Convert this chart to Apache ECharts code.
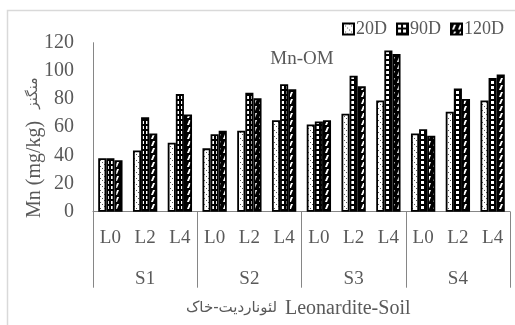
<!DOCTYPE html>
<html>
<head>
<meta charset="utf-8">
<script src="https://cdn.jsdelivr.net/npm/echarts@6/dist/echarts.min.js"></script>
<style>
  html, body { margin: 0; padding: 0; background: #fff; }
  #chart { width: 515px; height: 325px; }
</style>
</head>
<body>
<div id="chart"></div>
<script>
// Mn-OM: manganese (mg/kg) per leonardite level, soil and incubation time
const levels = ['L0', 'L2', 'L4'];
const sites = ['S1', 'S2', 'S3', 'S4'];
const days = ['20D', '90D', '120D'];

// values ordered S1 L0, S1 L2, S1 L4, S2 L0, ...
const mn20D  = [38, 43.5, 49, 45, 57.5, 65, 62, 69.5, 79, 55.5, 71, 79];
const mn90D  = [38, 67, 83.5, 55, 84.5, 90.5, 64, 96.5, 114.5, 58.5, 87.5, 95];
const mn120D = [36.5, 55.5, 69, 57.5, 80.5, 87, 65, 89, 112, 54, 80, 97.5];

const yMin = 0, yMax = 120, yStep = 20;

const serif = 'Liberation Serif, Times New Roman, serif';
const persian = 'DejaVu Sans, sans-serif';
const textGrey = '#595959';
const axisGrey = '#868686';

// hatch fills for the three series
function pattern(w, h, draw) {
  const c = document.createElement('canvas');
  c.width = w; c.height = h;
  const g = c.getContext('2d');
  draw(g);
  return { image: c, repeat: 'repeat' };
}
const fill20 = pattern(6, 6, g => {
  g.fillStyle = '#fff'; g.fillRect(0, 0, 6, 6);
  g.fillStyle = '#555';
  g.fillRect(0, 0, 1, 1); g.fillRect(2, 2, 1, 1); g.fillRect(4, 4, 1, 1);
});
const fill90 = pattern(5, 5, g => {
  g.fillStyle = '#000'; g.fillRect(0, 0, 5, 5);
  g.fillStyle = '#fff'; g.fillRect(1, 1, 3, 3);
});
const fill120 = pattern(6, 7, g => {
  g.fillStyle = '#000'; g.fillRect(0, 0, 6, 7);
  g.fillStyle = '#fff';
  g.beginPath();
  g.moveTo(1, 6); g.lineTo(3, 6); g.lineTo(5, 1); g.lineTo(3, 1);
  g.closePath(); g.fill();
});

const fills = [fill20, fill90, fill120];
const values = [mn20D, mn90D, mn120D];

const catKeys = [];
sites.forEach(s => levels.forEach(l => catKeys.push(s + '|' + l)));

const chart = echarts.init(document.getElementById('chart'), null, { renderer: 'canvas' });

chart.setOption({
  animation: false,
  backgroundColor: '#fff',
  grid: { left: 93, right: 5, top: 42.7, bottom: 113.3, containLabel: false, outerBoundsMode: 'none' },
  legend: {
    right: 6, top: 15,
    itemWidth: 11, itemHeight: 11, itemGap: 9,
    icon: 'rect',
    textStyle: { color: textGrey, fontFamily: serif, fontSize: 18, padding: [0, 0, 0, -3] },
    data: days
  },
  xAxis: [
    {
      type: 'category',
      data: catKeys,
      axisLine: { lineStyle: { color: axisGrey, width: 1 } },
      axisTick: { show: false },
      axisLabel: {
        interval: 0, margin: 17,
        color: textGrey, fontFamily: serif, fontSize: 19,
        formatter: v => v.split('|')[1]
      },
      splitLine: { show: false }
    },
    {
      type: 'category',
      data: sites,
      position: 'bottom',
      axisLine: { show: false },
      axisTick: { show: true, length: 76, interval: 0, lineStyle: { color: axisGrey, width: 1 } },
      axisLabel: { interval: 0, margin: 58, color: textGrey, fontFamily: serif, fontSize: 19 },
      splitLine: { show: false }
    }
  ],
  yAxis: {
    type: 'value',
    min: yMin, max: yMax, interval: yStep,
    axisLine: { show: true, lineStyle: { color: axisGrey, width: 1 } },
    axisTick: { show: false },
    splitLine: { show: false },
    axisLabel: { margin: 19, color: textGrey, fontFamily: serif, fontSize: 20 }
  },
  series: days.map((d, i) => ({
    name: d,
    type: 'bar',
    xAxisIndex: 0,
    data: values[i],
    barGap: '0%',
    barCategoryGap: '30%',
    itemStyle: { color: fills[i], borderColor: '#000', borderWidth: 1.8 }
  })),
  graphic: [
    {
      type: 'rect', silent: true, z: -10,
      shape: { x: 7.5, y: 10.5, width: 530, height: 340 },
      style: { fill: 'none', stroke: '#d9d9d9', lineWidth: 1.5 }
    },
    {
      type: 'text', x: 302, y: 59,
      style: {
        text: 'Mn-OM', fill: textGrey, font: '19px ' + serif,
        textAlign: 'center', textVerticalAlign: 'middle'
      }
    },
    // y-axis title, read bottom to top
    {
      type: 'text', x: 35, y: 218, rotation: Math.PI / 2,
      style: {
        text: 'Mn (mg/kg)', fill: textGrey, font: '20px ' + serif,
        textAlign: 'left', textVerticalAlign: 'middle'
      }
    },
    {
      type: 'text', x: 33, y: 109, rotation: Math.PI / 2,
      style: {
        text: 'منگنز', fill: textGrey, font: '14px ' + persian,
        textAlign: 'left', textVerticalAlign: 'middle'
      }
    },
    // x-axis title
    {
      type: 'text', x: 285, y: 309,
      style: {
        text: 'Leonardite-Soil', fill: textGrey, font: '20px ' + serif,
        textAlign: 'left', textVerticalAlign: 'middle'
      }
    },
    {
      type: 'text', x: 277, y: 308,
      style: {
        text: 'لئوناردیت-خاک', fill: textGrey, font: '15px ' + persian,
        textAlign: 'right', textVerticalAlign: 'middle'
      }
    }
  ]
});
</script>
</body>
</html>
